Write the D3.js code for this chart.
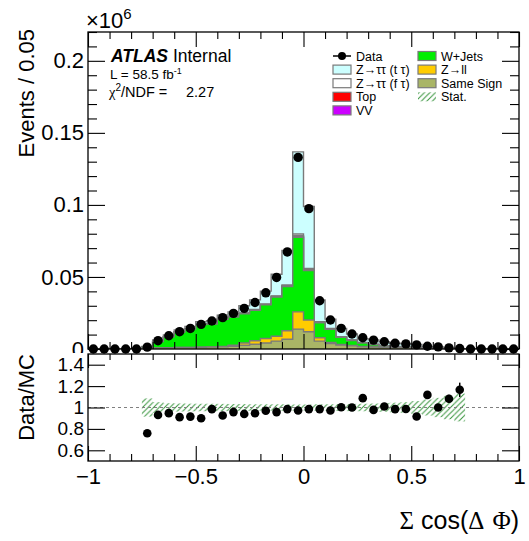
<!DOCTYPE html>
<html>
<head>
<meta charset="utf-8">
<script src="https://cdn.jsdelivr.net/npm/d3@7"></script>
<style>
  body { margin: 0; background: #fff; }
  svg text { font-family: "Liberation Sans", Arial, Helvetica, sans-serif; fill: #000; }
</style>
</head>
<body>
<svg id="chart" width="529" height="541"></svg>
<script>
// ---- binning: 40 bins of 0.05 on [-1, 1] ----
const binLow = -1, binWidth = 0.05, nBins = 40;
const binEdges = d3.range(nBins + 1).map(i => +(binLow + i * binWidth).toFixed(2));

// ---- event yields per bin (x 10^6) ----
const dataYield = [0,0,0,0,0, .00129,.00577,.00919,.01201,.01427, .0171,.0194,.02174,.02469,.0282,
  .03229,.03899,.04967,.06737,.13297, .09742,.03349,.02012,.01434,.0104, .00783,.00616,.00505,.00394,.00355,
  .00284,.0019,.0015,.0008,.000303, 0,0,0,0,0];
const sameSign = [0,0,0,0,0, .0003,.0008,.0009,.001,.001, .0012,.0013,.0015,.0019,.0026,
  .0033,.0042,.0055,.0068,.0138, .012,.0055,.0037,.0028,.0022, .0016,.0014,.0012,.0009,.0008,
  .0007,.0004,.0003,.0002,.0001, 0,0,0,0,0];
const zll = [0,0,0,0,0, 0,0,0,0,.0001, .0001,.0002,.0003,.0007,.0016,
  .0024,.0031,.0033,.0059,.012, .0081,.0023,.0009,.0004,.0003, .0002,.0001,.0001,.0001,.0001,
  .0001,0,0,0,0, 0,0,0,0,0];
const wjets = [0,0,0,0,0, .0012,.0043,.0075,.0107,.0127, .0156,.0158,.0188,.0196,.0202,
  .0212,.0233,.0273,.0306,.0517, .0343,.0104,.0091,.005,.0034, .0024,.0015,.0007,.0004,.0004,
  .0003,.0002,.0002,.00004,.00001, 0,0,0,0,0];
const diboson = [0,0,0,0,0, 0,.0001,.0001,.0001,.0001, .0001,.0001,.0001,.0002,.0002,
  .0002,.0002,.0002,.0003,.0005, .0004,.0002,.0001,.0001,.0001, .0001,.0001,.0001,.0001,0,
  0,0,0,0,0, 0,0,0,0,0];
const topQuark = [0,0,0,0,0, 0,.0001,.0001,.0001,.0001, .0001,.0001,.0001,.0002,.0002,
  .0002,.0002,.0003,.0004,.0006, .0006,.0003,.0002,.0001,.0001, .0001,.0001,.0001,.0001,.0001,
  .0001,0,0,0,0, 0,0,0,0,0];
const zttFake = [0,0,0,0,0, 0,.0001,.0001,.0001,.0001, .0001,.0002,.0002,.0002,.0002,
  .0002,.0002,.0003,.0004,.0012, .0005,.0003,.0002,.0001,.0001, .0001,.0001,.0001,.0001,.0001,
  0,0,0,0,0, 0,0,0,0,0];
const zttTrue = [0,0,0,0,0, .0002,.0008,.001,.0012,.0015, .0018,.002,.0025,.003,.005,
  .0066,.009,.015,.024,.057, .043,.015,.0065,.0058,.0042, .0027,.003,.0027,.0023,.0021,
  .0019,.0011,.001,.0005,.00015, 0,0,0,0,0];
// relative MC statistical uncertainty per bin
const mcStatRel = [0,0,0,0,0, .085,.05,.04,.038,.036, .035,.035,.034,.033,.032,
  .03,.03,.03,.03,.028, .028,.03,.03,.032,.034, .035,.037,.04,.045,.05,
  .06,.075,.09,.11,.13, 0,0,0,0,0];

// ---- axis ticks ----
const xMajor = [-1, -0.5, 0, 0.5, 1];
const xMinor = [-0.9,-0.8,-0.7,-0.6,-0.4,-0.3,-0.2,-0.1,0.1,0.2,0.3,0.4,0.6,0.7,0.8,0.9];
const yMajor = [0, 0.05, 0.1, 0.15, 0.2];
const yMajorLabels = ["0", "0.05", "0.1", "0.15", "0.2"];
const yMinor = [0.01,0.02,0.03,0.04,0.06,0.07,0.08,0.09,0.11,0.12,0.13,0.14,0.16,0.17,0.18,0.19,0.21,0.22];
const rMajor = [0.6, 0.8, 1, 1.2, 1.4];
const rMajorLabels = ["0.6", "0.8", "1", "1.2", "1.4"];

// ---- stack, bottom to top ----
const stackLayers = [
  { name: "Same Sign",  values: sameSign, color: "#a9b566" },
  { name: "Z\u2192ll",  values: zll,      color: "#ffcc00" },
  { name: "W+Jets",     values: wjets,    color: "#00ee00" },
  { name: "VV",         values: diboson,  color: "#cc00ff" },
  { name: "Top",        values: topQuark, color: "#ff0000" },
  { name: "Z\u2192\u03c4\u03c4 (f \u03c4)", values: zttFake, color: "#ffffff" },
  { name: "Z\u2192\u03c4\u03c4 (t \u03c4)", values: zttTrue, color: "#ccffff" }
];

// ---- layout ----
const xL = 88, xR = 519;
const mainTop = 32, mainBot = 349;
const ratTop = 354, ratBot = 461;
const outline = "#7a7a7a";
const hatchColor = "#35933a";

const svg = d3.select("#chart");
const x = d3.scaleLinear().domain([-1, 1]).range([xL, xR]);
const y = d3.scaleLinear().domain([0, 0.22]).range([mainBot, mainTop]);
const yr = d3.scaleLinear().domain([0.5, 1.5]).range([ratBot, ratTop]);

const defs = svg.append("defs");
defs.append("pattern").attr("id", "hatch").attr("patternUnits", "userSpaceOnUse")
  .attr("width", 5.5).attr("height", 5.5)
  .append("path").attr("d", "M-1,1 l2,-2 M0,5.5 l5.5,-5.5 M4.5,6.5 l2,-2")
  .attr("stroke", hatchColor).attr("stroke-width", 1);
defs.append("clipPath").attr("id", "clipMain").append("rect")
  .attr("x", xL).attr("y", mainTop).attr("width", xR - xL).attr("height", mainBot - mainTop);
// upper pad area: its labels are cut where the ratio pad begins
defs.append("clipPath").attr("id", "clipUpperPad").append("rect")
  .attr("x", 0).attr("y", 0).attr("width", 529).attr("height", ratTop - 1);

// cumulative stack tops
let running = new Array(nBins).fill(0);
const cumLayers = stackLayers.map(l => {
  running = running.map((v, i) => v + l.values[i]);
  return { ...l, cum: running.slice() };
});
const mcTotal = cumLayers[cumLayers.length - 1].cum;

const stepPts = cum => binEdges.map((e, i) => ({ e, v: cum[Math.min(i, nBins - 1)] }));
const area = d3.area().curve(d3.curveStepAfter).x(d => x(d.e)).y0(y(0)).y1(d => y(d.v));
const line = d3.line().curve(d3.curveStepAfter).x(d => x(d.e)).y(d => y(d.v));

// ---- main panel histograms (largest cumulative first) ----
const gHist = svg.append("g").attr("clip-path", "url(#clipMain)");
cumLayers.slice().reverse().forEach(l => {
  const pts = stepPts(l.cum);
  gHist.append("path").attr("d", area(pts)).attr("fill", l.color);
  gHist.append("path").attr("d", line(pts)).attr("fill", "none")
    .attr("stroke", outline).attr("stroke-width", 1.4);
});

// ---- tick helpers ----
function ticks(gen, pos, vals, size, labels, pad, fs) {
  const g = svg.append("g").attr("transform", pos)
    .call(gen.tickValues(vals).tickSize(size).tickPadding(pad || 3)
      .tickFormat(labels ? ((d, i) => labels[i]) : ""));
  g.select(".domain").remove();
  g.selectAll(".tick line").attr("stroke", "#000").attr("stroke-width", 1.1);
  g.selectAll(".tick text").attr("font-size", fs || 20)
    .attr("font-family", "'Liberation Sans', Arial, Helvetica, sans-serif").attr("fill", "#000");
  return g;
}

// main panel ticks
ticks(d3.axisBottom(x), `translate(0,${mainBot})`, xMajor, -15);
ticks(d3.axisBottom(x), `translate(0,${mainBot})`, xMinor, -7);
ticks(d3.axisTop(x), `translate(0,${mainTop})`, xMajor, -15);
ticks(d3.axisTop(x), `translate(0,${mainTop})`, xMinor, -7);
svg.append("g").attr("clip-path", "url(#clipUpperPad)").node()
  .appendChild(ticks(d3.axisLeft(y), `translate(${xL},0)`, yMajor, -17, yMajorLabels, 4, 22).node());
ticks(d3.axisLeft(y), `translate(${xL},0)`, yMinor, -9);
ticks(d3.axisRight(y), `translate(${xR},0)`, yMajor, -17);
ticks(d3.axisRight(y), `translate(${xR},0)`, yMinor, -9);

// main frame
svg.append("rect").attr("x", xL).attr("y", mainTop).attr("width", xR - xL).attr("height", mainBot - mainTop)
  .attr("fill", "none").attr("stroke", "#000").attr("stroke-width", 1.3);

// data points with Poisson errors
const binCenter = i => binLow + (i + 0.5) * binWidth;
const dataErr = dataYield.map(v => Math.sqrt(v * 1e6) / 1e6);
const gData = svg.append("g");
dataYield.forEach((v, i) => {
  if (dataErr[i] > 0) {
    gData.append("line").attr("x1", x(binCenter(i))).attr("x2", x(binCenter(i)))
      .attr("y1", y(v - dataErr[i])).attr("y2", y(v + dataErr[i]))
      .attr("stroke", "#000").attr("stroke-width", 1.5);
  }
  gData.append("circle").attr("cx", x(binCenter(i))).attr("cy", y(v)).attr("r", 4.7).attr("fill", "#000");
});

// ---- ratio panel ----
const gRat = svg.append("g");
mcTotal.forEach((t, i) => {
  if (t <= 0) return;
  gRat.append("rect").attr("x", x(binEdges[i])).attr("width", x(binEdges[i + 1]) - x(binEdges[i]))
    .attr("y", yr(1 + mcStatRel[i])).attr("height", yr(1 - mcStatRel[i]) - yr(1 + mcStatRel[i]))
    .attr("fill", "url(#hatch)");
});
gRat.append("line").attr("x1", x(-1)).attr("x2", x(1)).attr("y1", yr(1)).attr("y2", yr(1))
  .attr("stroke", "#808080").attr("stroke-width", 1.2).attr("stroke-dasharray", "3,3");

ticks(d3.axisBottom(x), `translate(0,${ratBot})`, xMajor, -15, xMajor.map(d3.format("")), 7, 22);
ticks(d3.axisBottom(x), `translate(0,${ratBot})`, xMinor, -7);
ticks(d3.axisTop(x), `translate(0,${ratTop})`, xMajor, -14);
ticks(d3.axisTop(x), `translate(0,${ratTop})`, xMinor, -6);
ticks(d3.axisLeft(yr), `translate(${xL},0)`, rMajor, -17, rMajorLabels, 4, 19);
ticks(d3.axisRight(yr), `translate(${xR},0)`, rMajor, -17);

svg.append("rect").attr("x", xL).attr("y", ratTop).attr("width", xR - xL).attr("height", ratBot - ratTop)
  .attr("fill", "none").attr("stroke", "#000").attr("stroke-width", 1.3);

mcTotal.forEach((t, i) => {
  if (t <= 0 || dataYield[i] <= 0) return;
  const r = dataYield[i] / t, re = dataErr[i] / t;
  const cx = x(binCenter(i));
  gRat.append("line").attr("x1", cx).attr("x2", cx).attr("y1", yr(r - re)).attr("y2", yr(r + re))
    .attr("stroke", "#000").attr("stroke-width", 1.5);
  gRat.append("circle").attr("cx", cx).attr("cy", yr(r)).attr("r", 4.3).attr("fill", "#000");
});

// ---- axis titles ----
svg.append("text").attr("transform", `translate(34,${mainTop - 3}) rotate(-90)`)
  .attr("text-anchor", "end").attr("font-size", 22).text("Events / 0.05");
svg.append("text").attr("transform", `translate(34,${ratTop}) rotate(-90)`)
  .attr("text-anchor", "end").attr("font-size", 22).text("Data/MC");
const serif = "'Liberation Serif', 'DejaVu Serif', serif";
const xt = svg.append("text").attr("x", xR).attr("y", 529).attr("text-anchor", "end").attr("font-size", 25);
xt.append("tspan").attr("font-family", serif).text("\u03a3");
xt.append("tspan").attr("dx", 7).text("cos(");
xt.append("tspan").attr("font-family", serif).text("\u0394");
xt.append("tspan").attr("dx", 8).attr("font-family", serif).text("\u03a6");
xt.append("tspan").text(")");

// exponent
const ex = svg.append("text").attr("x", 86).attr("y", 28).attr("font-size", 22);
ex.append("tspan").text("\u00d710");
ex.append("tspan").attr("font-size", 15).attr("dy", -9).text("6");

// ---- ATLAS label ----
const at = svg.append("text").attr("x", 111).attr("y", 62).attr("font-size", 17.5);
at.append("tspan").attr("font-weight", "bold").attr("font-style", "italic").text("ATLAS");
at.append("tspan").text(" Internal");
const lumi = svg.append("text").attr("x", 110).attr("y", 79).attr("font-size", 13.5);
lumi.append("tspan").text("L = 58.5 fb");
lumi.append("tspan").attr("font-size", 9).attr("dy", -5).text("-1");
const chi = svg.append("text").attr("x", 109).attr("y", 96.5).attr("font-size", 14.5);
chi.append("tspan").attr("font-family", serif).text("\u03c7");
chi.append("tspan").attr("font-size", 10).attr("dy", -6).text("2");
chi.append("tspan").attr("dy", 6).text("/NDF =");
svg.append("text").attr("x", 186).attr("y", 96.5).attr("font-size", 14.5).text("2.27");

// ---- legend ----
const legendCols = [
  [{ kind: "data", label: "Data" },
   { kind: "box", layer: 6 }, { kind: "box", layer: 5 }, { kind: "box", layer: 4 }, { kind: "box", layer: 3 }],
  [{ kind: "box", layer: 2 }, { kind: "box", layer: 1 }, { kind: "box", layer: 0 },
   { kind: "hatch", label: "Stat." }]
];
const colX = [333, 418], rowY0 = 56, rowStep = 13.6, boxW = 18, boxH = 9;
legendCols.forEach((col, c) => {
  col.forEach((item, r) => {
    const cy = rowY0 + r * rowStep, bx = colX[c];
    let label = item.label;
    if (item.kind === "data") {
      svg.append("line").attr("x1", bx).attr("x2", bx + boxW).attr("y1", cy).attr("y2", cy)
        .attr("stroke", "#000").attr("stroke-width", 1.5);
      svg.append("circle").attr("cx", bx + boxW / 2).attr("cy", cy).attr("r", 4).attr("fill", "#000");
    } else if (item.kind === "box") {
      const l = stackLayers[item.layer];
      label = l.name;
      svg.append("rect").attr("x", bx).attr("y", cy - boxH / 2).attr("width", boxW).attr("height", boxH)
        .attr("fill", l.color).attr("stroke", outline).attr("stroke-width", 1.2);
    } else {
      svg.append("rect").attr("x", bx).attr("y", cy - boxH / 2).attr("width", boxW).attr("height", boxH)
        .attr("fill", "url(#hatch)");
    }
    svg.append("text").attr("x", bx + boxW + 5).attr("y", cy + 4.5).attr("font-size", 12.5).text(label);
  });
});
</script>
</body>
</html>
